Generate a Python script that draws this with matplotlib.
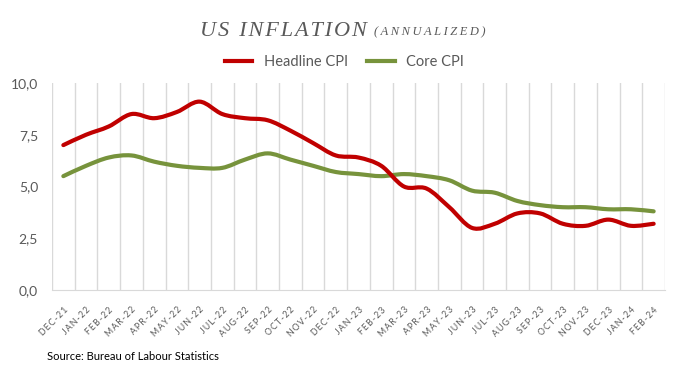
#!/usr/bin/env python3
"""US inflation (annualized): headline vs core CPI, Dec-21 to Feb-24."""
import matplotlib
matplotlib.use("Agg")
import matplotlib.pyplot as plt
from matplotlib.path import Path
from matplotlib.patches import PathPatch
from matplotlib.lines import Line2D

months = ["DEC-21", "JAN-22", "FEB-22", "MAR-22", "APR-22", "MAY-22", "JUN-22",
          "JUL-22", "AUG-22", "SEP-22", "OCT-22", "NOV-22", "DEC-22", "JAN-23",
          "FEB-23", "MAR-23", "APR-23", "MAY-23", "JUN-23", "JUL-23", "AUG-23",
          "SEP-23", "OCT-23", "NOV-23", "DEC-23", "JAN-24", "FEB-24"]
headline = [7.0, 7.5, 7.9, 8.5, 8.3, 8.6, 9.1, 8.5, 8.3, 8.2, 7.7, 7.1, 6.5, 6.4,
            6.0, 5.0, 4.9, 4.0, 3.0, 3.2, 3.7, 3.7, 3.2, 3.1, 3.4, 3.1, 3.2]
core = [5.5, 6.0, 6.4, 6.5, 6.2, 6.0, 5.9, 5.9, 6.3, 6.6, 6.3, 6.0, 5.7, 5.6,
        5.5, 5.6, 5.5, 5.3, 4.8, 4.7, 4.3, 4.1, 4.0, 4.0, 3.9, 3.9, 3.8]
y_ticks = [0, 2.5, 5.0, 7.5, 10.0]

RED = "#C00000"
GREEN = "#77933C"
GREY = "#595959"
GRID = "#D9D9D9"
THIN = "\u2009"
HAIR = "\u200a"


def spaced(s, sep=THIN):
    # fake letter-spacing
    return sep.join(s)


def smooth_path(xs, ys):
    # Excel-like smoothed line: cubic Bezier through every point
    pts = list(zip(xs, ys))
    n = len(pts)
    verts = [pts[0]]
    codes = [Path.MOVETO]
    for i in range(n - 1):
        p0 = pts[max(i - 1, 0)]
        p1 = pts[i]
        p2 = pts[i + 1]
        p3 = pts[min(i + 2, n - 1)]
        c1 = (p1[0] + (p2[0] - p0[0]) / 6, p1[1] + (p2[1] - p0[1]) / 6)
        c2 = (p2[0] - (p3[0] - p1[0]) / 6, p2[1] - (p3[1] - p1[1]) / 6)
        verts += [c1, c2, p2]
        codes += [Path.CURVE4] * 3
    return Path(verts, codes)


fig = plt.figure(figsize=(6.89, 3.88), dpi=100)
ax = fig.add_axes([52 / 689, 98 / 388, 613 / 689, 207 / 388])

x = list(range(len(months)))
for series, color in [(core, GREEN), (headline, RED)]:
    ax.add_patch(PathPatch(smooth_path(x, series), fill=False, edgecolor=color,
                           lw=3, capstyle="round", joinstyle="round", zorder=3))

ax.set_xlim(-0.5, len(months) - 0.5)
ax.set_ylim(0, 10)

# vertical grid at category boundaries
for b in range(len(months) + 1):
    ax.axvline(b - 0.5, color=GRID, lw=1, zorder=1)

for s in ["top", "right", "left"]:
    ax.spines[s].set_visible(False)
ax.spines["bottom"].set_color(GRID)

ax.set_yticks(y_ticks)
ax.set_yticklabels([f"{v:.1f}".replace(".", ",") for v in y_ticks],
                   fontsize=10, color=GREY, fontfamily="Lato")
ax.tick_params(axis="y", length=0, pad=10)

ax.set_xticks(x)
ax.set_xticklabels([spaced(m) for m in months], rotation=45, ha="right", va="top",
                   fontsize=6.3, color=GREY, fontfamily=["Lato", "DejaVu Sans"],
                   rotation_mode="anchor")
ax.tick_params(axis="x", length=0, pad=11)

# title
serif = ["Liberation Serif", "DejaVu Serif"]
fig.text(200 / 689, 1 - 36 / 388,
         spaced("US", HAIR) + " " + THIN + spaced("INFLATION", HAIR),
         fontsize=16, style="italic", family=serif, color=GREY, va="baseline")
fig.text(374 / 689, 1 - 35 / 388, spaced("(ANNUALIZED)"), fontsize=9,
         style="italic", family=serif, color=GREY, va="baseline")

handles = [Line2D([], [], color=RED, lw=3), Line2D([], [], color=GREEN, lw=3)]
leg = fig.legend(handles, ["Headline CPI", "Core CPI"], loc="center",
                 bbox_to_anchor=(0.5, 1 - 62 / 388), ncol=2, frameon=False,
                 prop={"family": "Lato", "size": 10.5}, handlelength=1.9,
                 handletextpad=0.8, columnspacing=1.3)
for t in leg.get_texts():
    t.set_color(GREY)

fig.text(47 / 689, 1 - 357 / 388, "Source: Bureau of Labour Statistics",
         fontsize=8, family="Lato", color="black", va="center")

fig.savefig("out.png", dpi=100)
